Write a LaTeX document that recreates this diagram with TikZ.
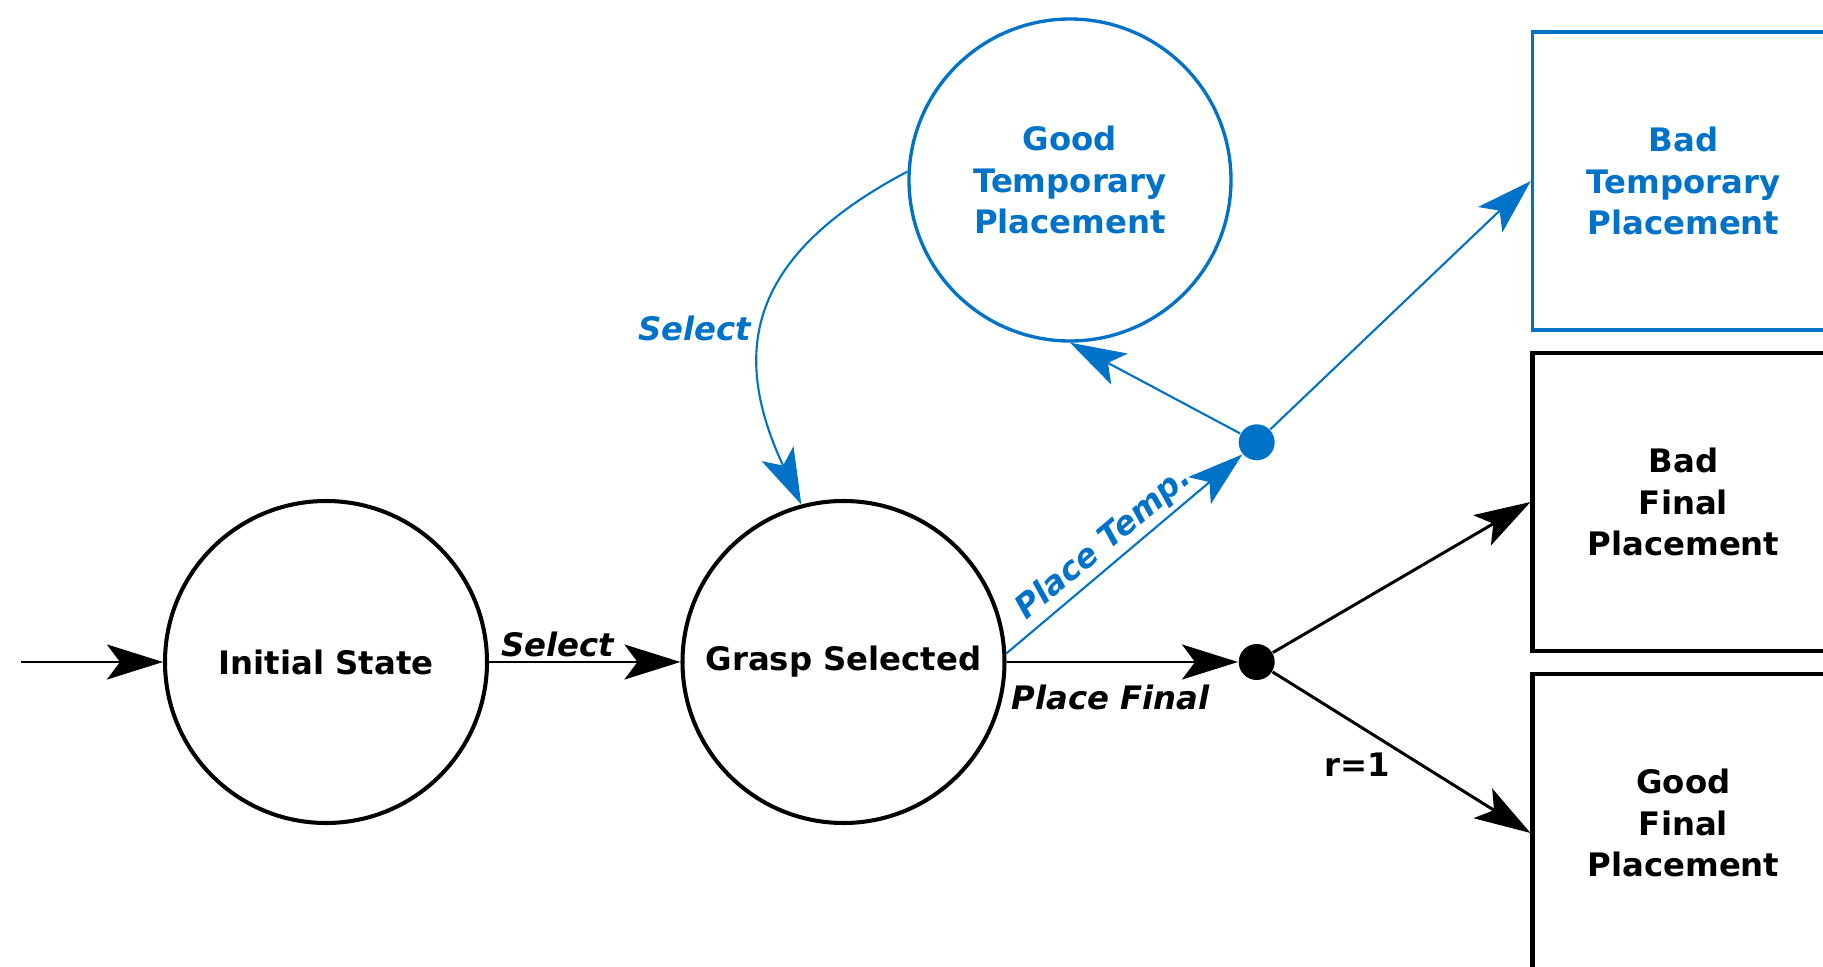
\documentclass[tikz,border=0pt]{standalone}
\usepackage{fontspec}
\setmainfont{DejaVu Sans}
\usetikzlibrary{arrows.meta, positioning}
\definecolor{tempblue}{RGB}{0,114,200}

\begin{document}
\begin{tikzpicture}[
		font=\fontsize{9.2}{11.7}\selectfont\bfseries,
		>={Stealth[length=5.6mm, width=3.5mm, inset=1.3mm]},
		state/.style={circle, draw, line width=1.15pt, minimum size=3.22cm, inner sep=0pt, align=center},
		placebox/.style={rectangle, draw, line width=1.15pt, minimum width=3.02cm, minimum height=2.98cm, align=center},
		junction/.style={circle, fill, inner sep=0pt, minimum size=3.6mm},
		trans/.style={->, line width=0.85pt},
		act/.style={font=\fontsize{9.2}{11.7}\selectfont\bfseries\itshape}
	]
	
	\useasboundingbox (0,0) rectangle (18.23,9.66);
	\clip (0,0) rectangle (18.23,9.66);
	
	% states
	\node[state] (init) at (3.26,3.04) {Initial State};
	\node[state] (grasp) at (8.435,3.04) {Grasp Selected};
	\node[state, tempblue, text=tempblue, line width=0.95pt] (goodtemp) at (10.70,7.86) {Good\\Temporary\\Placement};
	
	% placements
	\node[placebox, tempblue, text=tempblue, line width=0.95pt] (badtemp) at (16.835,7.85) {Bad\\Temporary\\Placement};
	\node[placebox] (badfinal) at (16.835,4.64) {Bad\\Final\\Placement};
	\node[placebox] (goodfinal) at (16.835,1.43) {Good\\Final\\Placement};
	
	% branch points
	\node[junction, tempblue] (jtemp) at (12.567,5.237) {};
	\node[junction] (jfinal) at (12.567,3.04) {};
	
	\coordinate (start) at (0.21,3.04);
	
	% final branch
	\draw[trans] (start) -- (init);
	\draw[trans] (init) -- node[pos=0.36, above, act, inner sep=1pt] {Select} (grasp);
	\draw[trans] (grasp) -- node[pos=0.45, below=1mm, act] {Place Final} (jfinal);
	\draw[trans] (jfinal) -- (badfinal.west);
	\draw[trans] (jfinal) -- node[pos=0.33, below=1.5mm] {r=1} ([yshift=-1mm]goodfinal.west);
	
	% temporary branch
	\begin{scope}[tempblue, trans/.append style={line width=0.6pt}]
		\draw[trans] (grasp.3) -- node[pos=0.47, sloped, above, act, inner sep=1.2pt] {Place Temp.} (jtemp);
		\draw[trans] (jtemp) -- (goodtemp.south);
		\draw[trans] (jtemp) -- (badtemp.west);
		\draw[trans] (goodtemp.177) .. controls +(-1.59,-0.84) and +(-0.72,1.54) .. node[pos=0.55, left, act] {Select} (grasp.105);
	\end{scope}
	
\end{tikzpicture}
\end{document}
